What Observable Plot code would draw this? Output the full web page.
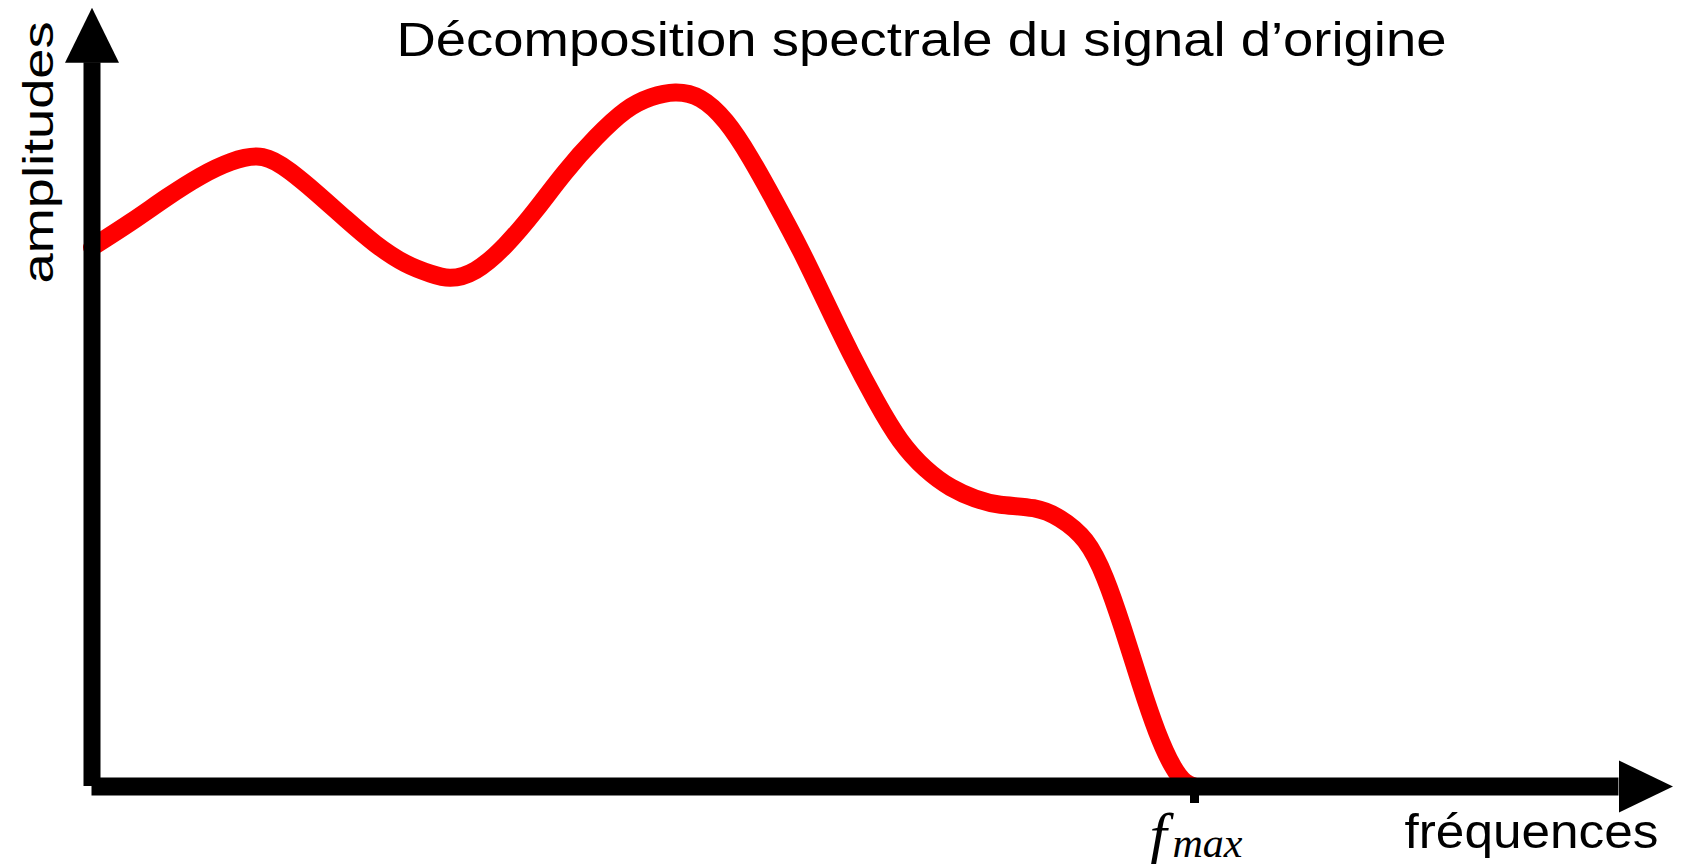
<!DOCTYPE html>
<html>
<head>
<meta charset="utf-8">
<script src="https://cdn.jsdelivr.net/npm/d3@7"></script>
<script src="https://cdn.jsdelivr.net/npm/@observablehq/plot@0.6"></script>
<style>
  html, body { margin: 0; padding: 0; background: #ffffff; }
  #chart svg { display: block; }
</style>
</head>
<body>
<div id="chart"></div>
<script>
// ---- data (f_max = 1, peak amplitude = 1) ----
const freq = [0.000, 0.035, 0.068, 0.098, 0.126, 0.155, 0.180, 0.203, 0.230, 0.257,
              0.284, 0.307, 0.325, 0.348, 0.375, 0.402, 0.429, 0.457, 0.484, 0.507,
              0.529, 0.552, 0.575, 0.597, 0.620, 0.643, 0.665, 0.688, 0.711, 0.733,
              0.756, 0.779, 0.801, 0.824, 0.854, 0.878, 0.901, 0.919, 0.935, 0.951,
              0.966, 0.980, 0.991, 1.000];
const amp  = [0.777, 0.813, 0.849, 0.879, 0.900, 0.907, 0.886, 0.856, 0.818, 0.782,
              0.754, 0.739, 0.733, 0.744, 0.780, 0.830, 0.885, 0.935, 0.974, 0.993,
              1.000, 0.991, 0.958, 0.906, 0.841, 0.772, 0.700, 0.625, 0.556, 0.499,
              0.458, 0.431, 0.415, 0.406, 0.401, 0.386, 0.354, 0.300, 0.228, 0.148,
              0.079, 0.030, 0.007, 0.000];

// axes extents (data units)
const yAxisEnd = [1.043];     // base of the vertical arrow head
const yArrowTip = [1.122];
const xAxisEnd = [1.385];     // base of the horizontal arrow head
const xArrowTip = [1.434];
const fmaxTicks = [1];
const tickDepth = [-0.0245];

// texts
const titleText = ["Décomposition spectrale du signal d’origine"];
const yLabel = ["amplitudes"];
const xLabel = ["fréquences"];
const fmaxMain = ["f"];
const fmaxSub = ["max"];

const spectrum = freq.map((f, i) => ({f, a: amp[i]}));

// custom arrow-head symbols (drawn with the tip at the dot position)
const arrowUp = {draw(ctx) { ctx.moveTo(0, 0); ctx.lineTo(27, 55); ctx.lineTo(-27, 55); ctx.closePath(); }};
const arrowRight = {draw(ctx) { ctx.moveTo(0, 0); ctx.lineTo(-54, 26); ctx.lineTo(-54, -26); ctx.closePath(); }};

const sans = "'Liberation Sans', Arial, Helvetica, sans-serif";
const serif = "'Liberation Serif', 'Times New Roman', serif";

const svg = Plot.plot({
  width: 1686,
  height: 864,
  margin: 0,
  style: {background: "#ffffff", overflow: "visible"},
  x: {domain: [0, 1], range: [91.5, 1194], axis: null},
  y: {domain: [0, 1], range: [786, 92], axis: null},
  marks: [
    Plot.line(spectrum, {x: "f", y: "a", stroke: "#ff0000", strokeWidth: 18, curve: "natural"}),
    // vertical axis
    Plot.ruleX([0], {y1: 0, y2: yAxisEnd[0], stroke: "#000", strokeWidth: 17}),
    Plot.dot([0], {x: 0, y: yArrowTip[0], r: 1, symbol: arrowUp, fill: "#000", stroke: "none"}),
    // horizontal axis
    Plot.ruleY([0], {x1: 0, x2: xAxisEnd[0], stroke: "#000", strokeWidth: 18}),
    Plot.dot([0], {x: xArrowTip[0], y: 0, r: 1, symbol: arrowRight, fill: "#000", stroke: "none"}),
    // f_max tick
    Plot.ruleX(fmaxTicks, {x: d => d, y1: 0, y2: tickDepth[0], stroke: "#000", strokeWidth: 9}),
    // texts
    Plot.text(titleText, {frameAnchor: "top-left", dx: 396, dy: 55, text: d => d, textAnchor: "start", lineAnchor: "bottom", fontSize: 48, fontFamily: sans, fill: "#000"}),
    Plot.text(yLabel, {frameAnchor: "top-left", dx: 52, dy: 283, text: d => d, rotate: -90, textAnchor: "start", lineAnchor: "bottom", fontSize: 42, fontFamily: sans, fill: "#000"}),
    Plot.text(xLabel, {frameAnchor: "top-left", dx: 1404, dy: 847, text: d => d, textAnchor: "start", lineAnchor: "bottom", fontSize: 48, fontFamily: sans, fill: "#000"}),
    Plot.text(fmaxMain, {x: fmaxTicks[0], y: 0, dx: -45, dy: 69, text: d => d, textAnchor: "start", lineAnchor: "bottom", fontSize: 62, fontStyle: "italic", fontFamily: serif, fill: "#000"}),
    Plot.text(fmaxSub, {x: fmaxTicks[0], y: 0, dx: -22, dy: 70, text: d => d, textAnchor: "start", lineAnchor: "bottom", fontSize: 42, fontStyle: "italic", fontFamily: serif, fill: "#000"})
  ]
});

// stretch the sans-serif labels to the widths seen in the reference
const lengths = new Map([[titleText[0], 1050], [yLabel[0], 262], [xLabel[0], 254]]);
d3.select(svg).selectAll("text").each(function() {
  const t = this.textContent;
  if (lengths.has(t)) {
    d3.select(this).attr("textLength", lengths.get(t)).attr("lengthAdjust", "spacingAndGlyphs");
  }
});

document.getElementById("chart").appendChild(svg);
</script>
</body>
</html>
